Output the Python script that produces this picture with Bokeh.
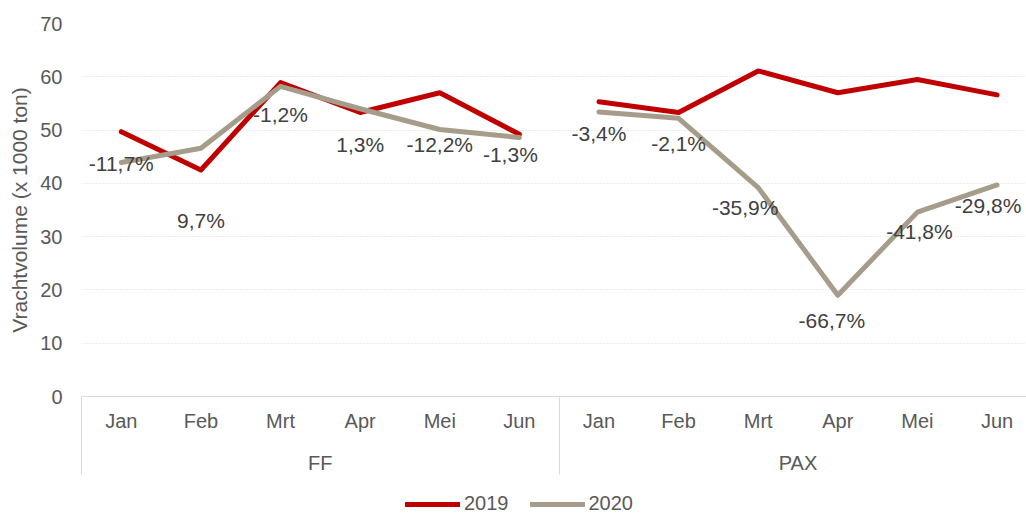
import math
from bokeh.plotting import figure
from bokeh.layouts import column
from bokeh.models import (ColumnDataSource, Range1d, FixedTicker, LinearAxis,
                          Legend, LegendItem)
from bokeh.embed import file_html
from bokeh.resources import INLINE

# ---- data ----
months = ["Jan", "Feb", "Mrt", "Apr", "Mei", "Jun"]
groups = ["FF", "PAX"]
ff_2019 = [49.7, 42.5, 58.9, 53.3, 57.0, 49.2]
ff_2020 = [43.9, 46.6, 58.2, 54.0, 50.1, 48.6]
pax_2019 = [55.3, 53.3, 61.1, 57.0, 59.5, 56.6]
pax_2020 = [53.4, 52.2, 39.2, 19.0, 34.6, 39.7]
ff_change = ["-11,7%", "9,7%", "-1,2%", "1,3%", "-12,2%", "-1,3%"]
pax_change = ["-3,4%", "-2,1%", "-35,9%", "-66,7%", "-41,8%", "-29,8%"]
y_ticks = [0, 10, 20, 30, 40, 50, 60, 70]
series = ["2019", "2020"]

# ---- label placement (style, pixels) ----
label_dx = [0, 0, 0, 0, 0, -9, 0, 0, -13, -6, 2, -9]
label_dy = [1, 72, 28, 36, 15, 17, 22, 25, 20, 25, 19, 21]

RED = "#C00000"
GREY = "#A59C8A"
TXT = "#595959"
FONT = "Liberation Sans"

n = len(months)
x_ff = list(range(n))
x_pax = list(range(n, 2 * n))

p = figure(width=1026, height=476, x_range=Range1d(-0.5, 11.37), y_range=Range1d(0, 70),
           output_backend="svg", toolbar_location=None, x_axis_location=None,
           min_border_left=81, min_border_right=0, min_border_top=23, min_border_bottom=0)
p.outline_line_color = None
p.xgrid.visible = False
p.ygrid.ticker = FixedTicker(ticks=y_ticks)
p.ygrid.grid_line_color = "#D9D9D9"
p.ygrid.grid_line_dash = "1 2"
p.ygrid.grid_line_width = 1

yax = p.yaxis[0]
yax.ticker = FixedTicker(ticks=y_ticks)
yax.axis_line_color = None
yax.major_tick_line_color = None
yax.minor_tick_line_color = None
yax.major_tick_out = 0
yax.major_label_standoff = 19
yax.major_label_text_font = FONT
yax.major_label_text_font_size = "20px"
yax.major_label_text_color = TXT
yax.axis_label = "Vrachtvolume (x 1000 ton)"
yax.axis_label_text_font = FONT
yax.axis_label_text_font_size = "21px"
yax.axis_label_text_font_style = "normal"
yax.axis_label_text_color = TXT
yax.axis_label_standoff = 6

# lines
lw = 5
kw = dict(line_width=lw, line_cap="round", line_join="round")
p.line(x_ff, ff_2019, line_color=RED, **kw)
p.line(x_pax, pax_2019, line_color=RED, **kw)
p.line(x_ff, ff_2020, line_color=GREY, **kw)
p.line(x_pax, pax_2020, line_color=GREY, **kw)

# data labels
src = ColumnDataSource(dict(x=x_ff + x_pax, y=ff_2020 + pax_2020, t=ff_change + pax_change,
                            dx=label_dx, dy=label_dy))
p.text(x="x", y="y", text="t", x_offset="dx", y_offset="dy", source=src,
       text_align="center", text_baseline="middle", text_font_size="21px",
       text_color="#404040", text_font={"value": FONT})

# category axis (months) with group separators as long minor ticks
SEP = 78
month_axis = LinearAxis(
    ticker=FixedTicker(ticks=list(range(2 * n)), minor_ticks=[-0.5, 5.5, 11.5]),
    major_label_overrides={i: m for i, m in enumerate(months * 2)},
    axis_line_color="#D9D9D9", axis_line_width=1,
    major_tick_line_color=None, major_tick_out=0, major_tick_in=0,
    minor_tick_line_color="#D9D9D9", minor_tick_out=SEP, minor_tick_in=0,
    major_label_standoff=13 - SEP, major_label_text_font=FONT,
    major_label_text_font_size="20px", major_label_text_color=TXT)
p.add_layout(month_axis, "below")

group_axis = LinearAxis(
    ticker=FixedTicker(ticks=[2.5, 8.5], minor_ticks=[]),
    major_label_overrides={2.5: groups[0], 8.5: groups[1]},
    axis_line_color=None, major_tick_line_color=None, minor_tick_line_color=None,
    major_tick_out=0, major_tick_in=0,
    major_label_standoff=17, major_label_text_font=FONT,
    major_label_text_font_size="20px", major_label_text_color=TXT)
p.add_layout(group_axis, "below")

# legend strip below the chart
q = figure(width=1026, height=40, x_range=Range1d(0, 1), y_range=Range1d(0, 1),
           output_backend="svg", toolbar_location=None,
           x_axis_location=None, y_axis_location=None,
           min_border_left=0, min_border_right=0, min_border_top=0, min_border_bottom=0)
q.outline_line_color = None
q.grid.visible = False
l19 = q.line([-2, -1], [-2, -1], line_color=RED, **kw)
l20 = q.line([-2, -1], [-2, -1], line_color=GREY, **kw)
legend = Legend(items=[LegendItem(label=series[0], renderers=[l19]),
                       LegendItem(label=series[1], renderers=[l20])],
                orientation="horizontal", location=(324, 1),
                border_line_color=None, background_fill_alpha=0,
                label_text_font=FONT, label_text_font_size="20px", label_text_color=TXT,
                glyph_width=55, glyph_height=20, label_standoff=4, spacing=21,
                padding=0, margin=0)
q.add_layout(legend, "center")

open("out.html", "w").write(file_html(column(p, q, spacing=0), INLINE))
